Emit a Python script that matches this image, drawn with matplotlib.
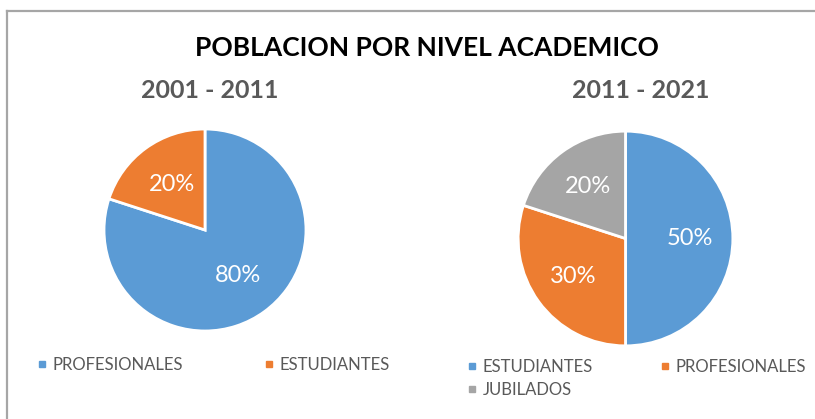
import matplotlib
matplotlib.use("Agg")
import matplotlib.pyplot as plt
from matplotlib.lines import Line2D

# data
left_labels = ["PROFESIONALES", "ESTUDIANTES"]
left_values = [80, 20]
right_labels = ["ESTUDIANTES", "PROFESIONALES", "JUBILADOS"]
right_values = [50, 30, 20]

title = "POBLACION POR NIVEL ACADEMICO"
left_title = "2001 - 2011"
right_title = "2011 - 2021"

BLUE = "#5B9BD5"
ORANGE = "#ED7D31"
GRAY = "#A5A5A5"
TXT = "#595959"

plt.rcParams['font.family'] = ['Lato', 'DejaVu Sans']

W, H = 815, 419
fig = plt.figure(figsize=(W / 100, H / 100), dpi=100)
fig.patch.set_facecolor("white")


def px_axes(x0, y_top, size):
    # axes box given in pixel coords (top-left origin)
    return fig.add_axes([x0 / W, (H - y_top - size) / H, size / W, size / H])


def draw_pie(ax, values, colors, pctdist):
    wedges, _, autotexts = ax.pie(
        values, colors=colors, startangle=90, counterclock=False,
        autopct="%d%%", pctdistance=pctdist,
        wedgeprops=dict(edgecolor="white", linewidth=2),
        textprops=dict(color="white", fontsize=17))
    ax.set_xlim(-1.02, 1.02)
    ax.set_ylim(-1.02, 1.02)
    ax.set_aspect("equal")
    return wedges


ax1 = px_axes(102, 127, 206)
draw_pie(ax1, left_values, [BLUE, ORANGE], 0.56)

ax2 = px_axes(516, 129, 219)
draw_pie(ax2, right_values, [BLUE, ORANGE, GRAY], 0.6)

# titles
fig.text(427 / W, 1 - 48 / H, title, ha="center", va="center",
         fontsize=19, fontweight="bold", color="black")
fig.text(210 / W, 1 - 91 / H, left_title, ha="center", va="center",
         fontsize=18, fontweight="bold", color=TXT)
fig.text(641 / W, 1 - 91 / H, right_title, ha="center", va="center",
         fontsize=18, fontweight="bold", color=TXT)


def sq(c):
    return Line2D([], [], marker="s", linestyle="none", markersize=4.5,
                  markerfacecolor=c, markeredgecolor=c)


leg_kw = dict(frameon=False, ncol=2, fontsize=12, labelcolor=TXT,
              handlelength=0.6, handletextpad=0.36, borderpad=0,
              borderaxespad=0, labelspacing=0.4)

fig.legend([sq(BLUE), sq(ORANGE)], left_labels, loc="upper left",
           bbox_to_anchor=(37 / W, 1 - 357 / H), columnspacing=4.8, **leg_kw)

# reorder so entries fill row by row like the original
fig.legend([sq(BLUE), sq(GRAY), sq(ORANGE)],
           [right_labels[0], right_labels[2], right_labels[1]],
           loc="upper left", bbox_to_anchor=(467 / W, 1 - 359 / H),
           columnspacing=4.0, **leg_kw)

# chart frame (top and left edges visible)
fig.add_artist(Line2D([6.5 / W, 1], [1 - 11.5 / H, 1 - 11.5 / H],
                      color="#A6A6A6", linewidth=1.6))
fig.add_artist(Line2D([6.5 / W, 6.5 / W], [0, 1 - 11.5 / H],
                      color="#A6A6A6", linewidth=1.6))

fig.savefig("out.png", dpi=100)
